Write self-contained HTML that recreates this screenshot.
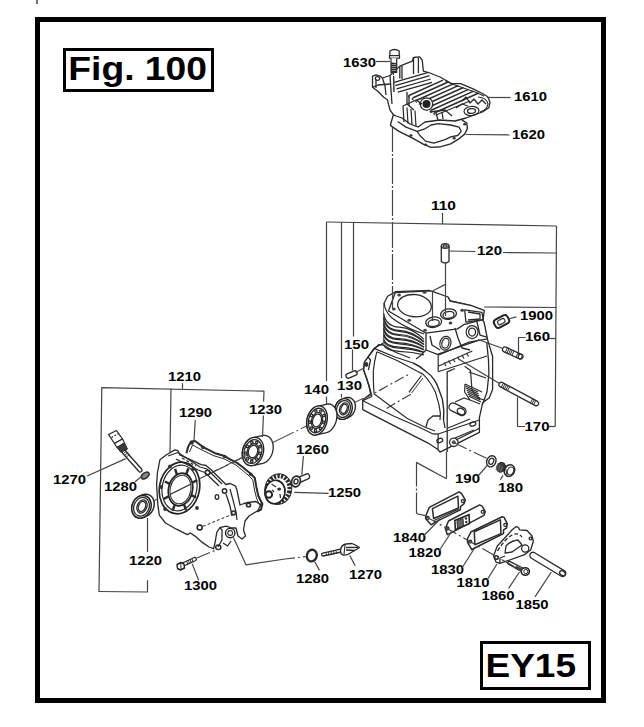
<!DOCTYPE html>
<html><head><meta charset="utf-8"><style>
html,body{margin:0;padding:0;background:#fff;width:644px;height:727px;overflow:hidden}
svg{position:absolute;left:0;top:0}
.d,.l{stroke-linejoin:round}
.d:not([fill]),.l:not([fill]){fill:none}
.d:not([stroke]){stroke:#2a2a2a}
.d:not([stroke-width]){stroke-width:1.3}
.l:not([stroke]){stroke:#444}
.l:not([stroke-width]){stroke-width:1.2}
text{font-family:"Liberation Sans",sans-serif;font-weight:bold;font-size:13px;fill:#000}
text.big{font-size:33px}
</style></head><body>
<svg width="644" height="727" viewBox="0 0 644 727">
<line x1="150" y1="502.8" x2="363.3" y2="398.2" stroke="#555" stroke-width="1.1" stroke-dasharray="34 3 2 3"/>
<polygon class="d" points="393.4,114.6 390.6,124.3 390.6,125.7 399.0,131.3 413.0,138.3 424.1,144.6 431.1,147.4 440.9,146.7 450.7,143.9 457.7,139.7 464.7,134.1 467.4,128.5 466.8,123.0 463.3,120.9 460.0,118.0" fill="#fff" stroke-width="1.4"/>
<polyline class="d" points="397.6,121.5 406.0,127.1 417.1,131.3 424.1,129.2 431.1,125.0 438.1,123.6 450.7,125.0 459.1,127.1 461.2,131.3 457.7,135.5 450.7,136.9 445.1,139.7 433.9,143.2 425.5,141.1 419.9,135.5 417.1,131.3" stroke-width="1.3"/>
<ellipse cx="410.9" cy="135.5" rx="1.6" ry="1.2" fill="#333"/>
<ellipse cx="425.5" cy="144.6" rx="1.6" ry="1.2" fill="#333"/>
<ellipse cx="454.2" cy="138.3" rx="1.6" ry="1.2" fill="#333"/>
<ellipse cx="464.7" cy="124.3" rx="1.6" ry="1.2" fill="#333"/>
<polygon class="d" points="372.5,76.1 376.2,74.8 380.0,76.1 382.4,78.0 390.0,75.5 399.8,66.1 412.2,61.2 413.5,57.5 419.7,56.8 422.2,60.0 423.4,71.1 430.0,73.0 440.0,77.0 452.0,83.7 460.7,83.7 473.7,89.1 482.4,93.5 487.8,96.7 490.0,102.2 488.9,107.6 482.4,112.0 473.7,115.2 466.0,118.0 455.0,121.0 440.0,120.0 425.0,122.0 418.0,127.0 410.0,124.0 402.0,118.0 396.0,116.0 393.4,114.6 390.0,110.0 388.6,104.7 387.4,99.7 383.7,97.2 377.5,91.0 372.5,87.3" fill="#fff" stroke-width="1.3"/>
<path class="d" d="M389.9,55.6 L389.9,51 Q394.5,48 399.2,51 L399.2,55.6 Z" fill="#fff" stroke-width="1.3"/>
<rect x="389.5" y="55.6" width="10" height="2.6" fill="#fff" stroke="#2a2a2a" stroke-width="1.2"/>
<path class="d" d="M391,58.2 L391,72.4 L396.7,72.4 L396.7,58.2" fill="#fff" stroke-width="1.2"/>
<line class="d" x1="391" y1="63" x2="396.7" y2="64" stroke-width="1.3"/>
<line class="d" x1="391" y1="65" x2="396.7" y2="66" stroke-width="1.3"/>
<line class="d" x1="391" y1="67" x2="396.7" y2="68" stroke-width="1.3"/>
<line class="d" x1="391" y1="69" x2="396.7" y2="70" stroke-width="1.3"/>
<line class="d" x1="391" y1="71" x2="396.7" y2="72" stroke-width="1.3"/>
<ellipse class="d" cx="377.5" cy="78.5" rx="2.2" ry="1.8" transform="rotate(0 377.5 78.5)" stroke-width="1.2"/>
<polyline class="d" points="372.5,87.3 378.0,85.0 390.0,84.0" />
<polyline class="d" points="376.0,79.0 376.0,88.0" />
<polyline class="d" points="382.4,78.0 385.0,86.0 386.0,95.0" />
<polyline class="d" points="390.0,75.5 391.0,90.0 392.0,104.0" />
<polyline class="d" points="393.6,76.0 394.0,92.0" />
<polyline class="d" points="399.8,66.1 399.8,78.6" />
<polyline class="d" points="413.5,57.5 413.5,74.0" />
<polyline class="d" points="418.4,58.0 418.4,73.0" />
<polyline class="d" points="402.0,66.0 402.0,79.0" />
<polyline class="d" points="394.0,82.3 428.4,72.4" stroke-width="1.2"/>
<polyline class="d" points="395.3,85.6 429.6,75.7" stroke-width="1.2"/>
<polyline class="d" points="396.6,88.9 430.8,79.0" stroke-width="1.2"/>
<polyline class="d" points="397.9,92.2 432.0,82.3" stroke-width="1.2"/>
<polyline class="d" points="409.0,95.5 443.0,80.2" stroke-width="1.4"/>
<path class="d" d="M409.0,95.5 q-1.8,1.4 1.0,2.0" stroke-width="1"/>
<polyline class="d" points="412.6,98.0 448.1,82.0" stroke-width="1.4"/>
<path class="d" d="M412.6,98.0 q-1.8,1.4 1.0,2.0" stroke-width="1"/>
<polyline class="d" points="416.2,100.5 453.2,83.8" stroke-width="1.4"/>
<path class="d" d="M416.2,100.5 q-1.8,1.4 1.0,2.0" stroke-width="1"/>
<polyline class="d" points="419.8,103.0 458.3,85.7" stroke-width="1.4"/>
<path class="d" d="M419.8,103.0 q-1.8,1.4 1.0,2.0" stroke-width="1"/>
<polyline class="d" points="423.4,105.5 463.4,87.5" stroke-width="1.4"/>
<path class="d" d="M423.4,105.5 q-1.8,1.4 1.0,2.0" stroke-width="1"/>
<polyline class="d" points="427.0,108.0 468.5,89.3" stroke-width="1.4"/>
<path class="d" d="M427.0,108.0 q-1.8,1.4 1.0,2.0" stroke-width="1"/>
<polyline class="d" points="430.6,110.5 473.6,91.2" stroke-width="1.4"/>
<path class="d" d="M430.6,110.5 q-1.8,1.4 1.0,2.0" stroke-width="1"/>
<polyline class="d" points="434.2,113.0 478.7,93.0" stroke-width="1.4"/>
<path class="d" d="M434.2,113.0 q-1.8,1.4 1.0,2.0" stroke-width="1"/>
<polyline class="d" points="407.0,92.0 407.0,104.0 414.0,110.0" />
<polyline class="d" points="409.0,95.0 409.0,106.0" />
<polyline class="d" points="445.0,80.5 452.0,84.0 475.0,92.0 484.0,96.0" stroke-width="1.2"/>
<polyline class="d" points="436.0,115.0 470.0,101.0" stroke-width="1.2"/>
<circle cx="426.5" cy="104" r="6.2" fill="#fff" stroke="#2a2a2a" stroke-width="1.3"/>
<circle cx="426.5" cy="104" r="4" fill="#222"/>
<polyline class="d" points="403.0,106.0 404.0,122.0" stroke-width="1.2"/>
<polyline class="d" points="407.0,107.5 408.0,123.5" stroke-width="1.2"/>
<polyline class="d" points="411.0,109.0 412.0,125.0" stroke-width="1.2"/>
<polyline class="d" points="415.0,110.5 416.0,126.5" stroke-width="1.2"/>
<polyline class="d" points="403.0,106.0 416.0,100.0 422.0,104.0" />
<polyline class="d" points="430.0,112.0 445.0,110.0 452.0,116.0" />
<polyline class="d" points="436.0,113.0 438.0,120.0" />
<polyline class="d" points="442.0,112.0 443.0,119.0" />
<path class="d" d="M478,97 Q487,98 488,104 Q487,110 480,112" stroke-width="1.2"/>
<polyline class="d" points="462.0,101.0 466.0,97.0 470.0,103.0 474.0,99.0 478.0,104.0 482.0,100.0 486.0,104.0" />
<ellipse class="d" cx="471.5" cy="111" rx="7.5" ry="4.5" transform="rotate(-5 471.5 111)" stroke-width="1.2"/>
<ellipse class="d" cx="471.5" cy="111" rx="4" ry="2.4" transform="rotate(-5 471.5 111)" />
<polyline class="d" points="456.0,108.0 462.0,104.0 468.0,106.0" />
<path class="d" d="M441.3,246 L441.3,261.5 Q445.2,264.5 449,261.5 L449,246" fill="#fff"/>
<ellipse class="d" cx="445.15" cy="246" rx="3.85" ry="2.4" transform="rotate(0 445.15 246)" />
<ellipse class="d" cx="445.15" cy="246" rx="2" ry="1.2" transform="rotate(0 445.15 246)" />
<path class="d" fill="#fff" d="M504.0,351.8 L519.5,358.9 A2.5,2.5 0 0 0 521.5,354.3 L506.0,347.2 A2.5,2.5 0 0 0 504.0,351.8Z"/>
<line class="d" x1="505.3" y1="352.4" x2="507.4" y2="347.9" stroke-width="1"/>
<line class="d" x1="507.0" y1="353.1" x2="509.0" y2="348.6" stroke-width="1"/>
<line class="d" x1="508.6" y1="353.9" x2="510.7" y2="349.4" stroke-width="1"/>
<line class="d" x1="510.2" y1="354.6" x2="512.3" y2="350.1" stroke-width="1"/>
<line class="d" x1="511.9" y1="355.4" x2="514.0" y2="350.9" stroke-width="1"/>
<line class="d" x1="517.6" y1="358.0" x2="519.7" y2="353.5" stroke-width="1"/>
<line class="d" x1="516.0" y1="357.3" x2="518.1" y2="352.7" stroke-width="1"/>
<ellipse class="d" cx="520.2" cy="356.5" rx="1.8" ry="2.4" transform="rotate(25 520.2 356.5)" stroke-width="1"/>
<path class="d" fill="#fff" d="M499.9,386.6 L535.4,405.6 A2.4,2.4 0 0 0 537.6,401.4 L502.1,382.4 A2.4,2.4 0 0 0 499.9,386.6Z"/>
<line class="d" x1="501.2" y1="387.3" x2="503.5" y2="383.1" stroke-width="1"/>
<line class="d" x1="502.8" y1="388.2" x2="505.0" y2="383.9" stroke-width="1"/>
<line class="d" x1="504.4" y1="389.0" x2="506.6" y2="384.8" stroke-width="1"/>
<line class="d" x1="506.0" y1="389.9" x2="508.2" y2="385.6" stroke-width="1"/>
<line class="d" x1="507.5" y1="390.7" x2="509.8" y2="386.5" stroke-width="1"/>
<line class="d" x1="533.6" y1="404.7" x2="535.9" y2="400.4" stroke-width="1"/>
<line class="d" x1="532.0" y1="403.8" x2="534.3" y2="399.6" stroke-width="1"/>
<line class="d" x1="530.4" y1="403.0" x2="532.7" y2="398.7" stroke-width="1"/>
<rect x="494" y="317" width="15" height="9" rx="3" transform="rotate(-28 501.5 321.5)" fill="#fff" stroke="#222" stroke-width="2"/>
<rect x="497.5" y="319.3" width="7.5" height="4.4" rx="1.5" transform="rotate(-28 501.5 321.5)" fill="none" stroke="#333" stroke-width="1.2"/>
<path class="d" fill="#fff" d="M348.9,378.1 L355.9,375.1 A2.3,2.3 0 0 0 354.1,370.9 L347.1,373.9 A2.3,2.3 0 0 0 348.9,378.1Z"/>
<polygon class="d" points="334.6,410.1 334.8,408.7 335.0,407.4 335.4,406.1 336.0,404.8 336.6,403.6 337.4,402.5 338.3,401.5 339.3,400.6 340.4,399.9 341.5,399.3 344.5,398.1 345.6,397.7 346.8,397.5 347.9,397.4 349.0,397.5 350.1,397.8 351.1,398.3 352.1,398.9 352.9,399.7 353.7,400.6 354.3,401.7 354.8,402.8 355.1,404.1 355.3,405.4 355.4,406.7 355.2,408.1 355.0,409.4 354.6,410.7 354.0,412.0 353.4,413.2 352.6,414.3 351.7,415.3 350.7,416.2 349.6,416.9 348.5,417.5 345.5,418.7 344.4,419.1 343.2,419.3 342.1,419.4 341.0,419.3 339.9,419.0 338.9,418.5 337.9,417.9 337.1,417.1 336.3,416.2 335.7,415.1 335.2,414.0 334.9,412.7 334.7,411.4" fill="#fff" stroke-width="1.4"/>
<ellipse cx="343.5" cy="409" rx="8.6" ry="10.6" transform="rotate(20 343.5 409)" fill="#fff" stroke="#222" stroke-width="1.4"/>
<ellipse class="d" cx="343.5" cy="409" rx="6.8" ry="8.6" transform="rotate(20 343.5 409)" />
<ellipse class="d" cx="344" cy="408.8" rx="4.3" ry="6.2" transform="rotate(20 344 408.8)" stroke-width="1.2"/>
<ellipse class="d" cx="344" cy="408.8" rx="3" ry="4.7" transform="rotate(20 344 408.8)" />
<polygon class="d" points="306.6,423.6 306.7,421.7 306.9,419.8 307.3,417.9 307.9,416.1 308.7,414.3 309.5,412.6 310.6,411.1 311.7,409.7 312.9,408.6 314.2,407.6 315.5,406.8 316.8,406.3 326.3,404.3 327.7,404.0 329.0,404.0 330.3,404.2 331.6,404.7 332.7,405.4 333.7,406.3 334.6,407.4 335.4,408.7 336.0,410.2 336.5,411.9 336.8,413.6 336.9,415.4 336.8,417.3 336.6,419.2 336.2,421.1 335.6,422.9 334.8,424.7 334.0,426.4 332.9,427.9 331.8,429.3 330.6,430.4 329.3,431.4 328.0,432.2 326.7,432.7 317.2,434.7 315.8,435.0 314.5,435.0 313.2,434.8 311.9,434.3 310.8,433.6 309.8,432.7 308.9,431.6 308.1,430.3 307.5,428.8 307.0,427.1 306.7,425.4" fill="#fff" stroke-width="1.3"/>
<ellipse cx="317" cy="420.5" rx="10" ry="14.8" transform="rotate(15 317 420.5)" fill="#fff" stroke="#222" stroke-width="1.3"/>
<ellipse class="d" cx="317" cy="420.5" rx="8.4" ry="12.432" transform="rotate(15 317 420.5)" />
<ellipse class="d" cx="317" cy="420.5" rx="5.5" ry="8.14" transform="rotate(15 317 420.5)" stroke-width="1.2"/>
<ellipse class="d" cx="317" cy="420.5" rx="4.4" ry="6.5120000000000005" transform="rotate(15 317 420.5)" />
<circle class="d" cx="323.7" cy="422.3" r="1.2"/>
<circle class="d" cx="320.4" cy="428.3" r="1.2"/>
<circle class="d" cx="315.5" cy="430.6" r="1.2"/>
<circle class="d" cx="311.3" cy="428.2" r="1.2"/>
<circle class="d" cx="309.8" cy="422.2" r="1.2"/>
<circle class="d" cx="311.6" cy="415.4" r="1.2"/>
<circle class="d" cx="315.9" cy="411.0" r="1.2"/>
<circle class="d" cx="320.8" cy="411.0" r="1.2"/>
<circle class="d" cx="323.9" cy="415.5" r="1.2"/>
<polygon class="d" points="242.3,454.3 242.3,452.5 242.6,450.6 242.9,448.8 243.5,447.0 244.3,445.3 245.2,443.7 246.2,442.2 247.3,440.9 248.5,439.8 249.8,438.8 251.2,438.1 252.6,437.6 262.1,435.6 263.5,435.4 264.9,435.4 266.2,435.6 267.5,436.1 268.7,436.8 269.8,437.7 270.8,438.8 271.6,440.1 272.2,441.6 272.7,443.2 273.1,444.9 273.2,446.7 273.2,448.5 272.9,450.4 272.6,452.2 272.0,454.0 271.2,455.7 270.4,457.3 269.3,458.8 268.2,460.1 267.0,461.2 265.7,462.2 264.3,462.9 262.9,463.4 253.4,465.4 252.0,465.6 250.6,465.6 249.3,465.4 248.0,464.9 246.8,464.2 245.7,463.3 244.8,462.2 243.9,460.9 243.3,459.4 242.8,457.8 242.4,456.1" fill="#fff" stroke-width="1.3"/>
<ellipse cx="253" cy="451.5" rx="10.4" ry="14.4" transform="rotate(15 253 451.5)" fill="#fff" stroke="#222" stroke-width="1.3"/>
<ellipse class="d" cx="253" cy="451.5" rx="8.736" ry="12.096" transform="rotate(15 253 451.5)" />
<ellipse class="d" cx="253" cy="451.5" rx="5.720000000000001" ry="7.920000000000001" transform="rotate(15 253 451.5)" stroke-width="1.2"/>
<ellipse class="d" cx="253" cy="451.5" rx="4.5760000000000005" ry="6.336000000000001" transform="rotate(15 253 451.5)" />
<circle class="d" cx="260.0" cy="453.4" r="1.2"/>
<circle class="d" cx="256.7" cy="459.1" r="1.2"/>
<circle class="d" cx="251.7" cy="461.3" r="1.2"/>
<circle class="d" cx="247.3" cy="458.9" r="1.2"/>
<circle class="d" cx="245.6" cy="453.0" r="1.2"/>
<circle class="d" cx="247.3" cy="446.4" r="1.2"/>
<circle class="d" cx="251.8" cy="442.2" r="1.2"/>
<circle class="d" cx="256.8" cy="442.3" r="1.2"/>
<circle class="d" cx="260.0" cy="446.7" r="1.2"/>
<ellipse cx="278.3" cy="489.2" rx="11.2" ry="13.2" transform="rotate(10 278.3 489.2)" fill="none" stroke="#2a2a2a" stroke-width="4.2" stroke-dasharray="2.3 1.3"/>
<ellipse cx="278.3" cy="489.2" rx="13.4" ry="15.4" transform="rotate(10 278.3 489.2)" fill="none" stroke="#2a2a2a" stroke-width="1"/>
<ellipse cx="275" cy="492" rx="10" ry="11.8" transform="rotate(10 275 492)" fill="#fff" stroke="#222" stroke-width="1.6"/>
<circle cx="268.8" cy="494.5" r="3.3" fill="#fff" stroke="#222" stroke-width="1.9"/>
<ellipse cx="279.1" cy="489.1" rx="2" ry="1.6" fill="#333"/>
<polyline class="d" points="271.5,484.0 276.0,487.0" stroke-width="1.2"/>
<polyline class="d" points="272.0,490.0 274.0,492.0" stroke-width="1.2"/>
<polyline class="d" points="280.0,494.0 280.5,498.0" stroke-width="1.2"/>
<path class="d" fill="#fff" d="M298.1,483.4 L308.1,478.9 A2.6,2.6 0 0 0 305.9,474.1 L295.9,478.6 A2.6,2.6 0 0 0 298.1,483.4Z"/>
<ellipse class="d" cx="296" cy="481.5" rx="4.3" ry="5.4" transform="rotate(20 296 481.5)" fill="#fff" stroke-width="1.8"/>
<ellipse class="d" cx="296" cy="481.5" rx="2" ry="2.6" transform="rotate(20 296 481.5)" stroke-width="1.4"/>
<polyline class="d" points="186.5,453.2 188.0,447.1 191.0,441.5 195.0,441.0 203.2,447.1 215.0,453.2 224.6,456.0 228.7,458.7 237.0,462.9 242.5,467.0 250.7,473.8 254.8,478.0 256.2,486.2 258.3,495.8 260.3,500.0 262.4,504.0 261.0,509.6 257.0,511.5" stroke-width="2"/>
<polyline class="d" points="189.5,452.0 192.5,445.0 202.0,450.0 214.0,455.8 224.0,458.8 236.0,465.0 249.0,475.8 252.8,480.0 254.5,490.0 256.5,498.0 259.5,505.0" stroke-width="1"/>
<circle cx="203" cy="447.5" r="1.8" fill="#333"/>
<circle cx="224.6" cy="456.5" r="1.8" fill="#333"/>
<circle cx="250.7" cy="474.3" r="1.8" fill="#333"/>
<circle cx="260.5" cy="505" r="1.8" fill="#333"/>
<circle cx="192" cy="443" r="1.8" fill="#333"/>
<polygon class="d" points="159.9,459.8 166.5,454.8 174.8,449.9 178.0,450.7 179.7,454.8 201.2,464.7 206.1,465.5 211.1,469.7 225.9,484.5 230.1,483.5 235.6,486.2 237.0,490.3 240.0,505.0 244.0,503.5 248.0,502.5 256.0,501.5 260.5,505.0 258.0,510.5 249.0,516.0 245.0,521.0 243.5,530.0 245.5,536.0 242.0,539.0 238.0,536.0 236.0,528.0 232.0,528.0 226.1,526.1 219.9,527.6 216.8,532.3 215.2,541.6 213.7,548.6 209.0,547.0 201.2,541.6 195.0,536.1 190.4,533.0 187.3,534.6 176.4,529.2 165.5,523.0 159.3,515.2 157.8,504.3 156.6,484.5 157.4,473.0" fill="#fff" stroke-width="1.3"/>
<line x1="200" y1="478.4" x2="228" y2="464.7" stroke="#444" stroke-width="1.1"/>
<line x1="233" y1="462.2" x2="248" y2="454.8" stroke="#444" stroke-width="1.1"/>
<ellipse cx="179.5" cy="488" rx="20" ry="26" transform="rotate(12 179.5 488)" fill="#fff" stroke="#222" stroke-width="1.7"/>
<ellipse class="d" cx="179.5" cy="488" rx="17.3" ry="23" transform="rotate(12 179.5 488)" stroke-width="1.2"/>
<line class="d" x1="191.3" y1="495.2" x2="196.1" y2="497.5" stroke-width="2.4"/>
<line class="d" x1="184.1" y1="504.3" x2="185.9" y2="510.2" stroke-width="2.4"/>
<line class="d" x1="174.8" y1="504.8" x2="172.5" y2="510.8" stroke-width="2.4"/>
<line class="d" x1="168.8" y1="496.3" x2="163.8" y2="498.9" stroke-width="2.4"/>
<line class="d" x1="169.7" y1="483.8" x2="164.9" y2="481.5" stroke-width="2.4"/>
<line class="d" x1="176.9" y1="474.7" x2="175.1" y2="468.8" stroke-width="2.4"/>
<line class="d" x1="186.2" y1="474.2" x2="188.5" y2="468.2" stroke-width="2.4"/>
<line class="d" x1="192.2" y1="482.7" x2="197.2" y2="480.1" stroke-width="2.4"/>
<ellipse cx="180.5" cy="489.5" rx="12" ry="16.5" transform="rotate(12 180.5 489.5)" fill="#fff" stroke="#222" stroke-width="1.7"/>
<ellipse class="d" cx="180.5" cy="489.5" rx="10.3" ry="14.5" transform="rotate(12 180.5 489.5)" stroke-width="1"/>
<circle cx="170" cy="466.5" r="1.9" fill="#333"/>
<circle cx="197" cy="508" r="1.9" fill="#333"/>
<circle cx="165" cy="509" r="1.9" fill="#333"/>
<circle cx="193" cy="469" r="1.9" fill="#333"/>
<circle cx="161" cy="487" r="1.9" fill="#333"/>
<line class="d" x1="170" y1="494.5" x2="191" y2="484" />
<polyline class="d" points="168.0,456.0 178.0,452.5 200.0,467.0 207.0,469.0 222.0,484.0" stroke-width="1.2"/>
<polyline class="d" points="176.0,459.0 198.0,470.0 205.0,472.5 219.0,486.0" />
<polyline class="d" points="182.0,458.0 196.0,466.0" stroke-dasharray="3 2"/>
<ellipse class="d" cx="207.5" cy="472.5" rx="2.3" ry="2.3" transform="rotate(0 207.5 472.5)" stroke-width="1.4"/>
<ellipse class="d" cx="224.5" cy="491" rx="2.2" ry="2.2" transform="rotate(0 224.5 491)" stroke-width="1.4"/>
<ellipse class="d" cx="217" cy="497" rx="1.8" ry="2.3" transform="rotate(0 217 497)" />
<polyline class="d" points="230.0,489.0 233.0,500.0 236.0,512.0 237.0,520.0" stroke-width="1.2"/>
<polyline class="d" points="226.0,494.0 230.0,506.0 232.0,516.0" />
<ellipse class="d" cx="233.5" cy="513" rx="2" ry="2" transform="rotate(0 233.5 513)" stroke-width="1.6"/>
<ellipse class="d" cx="248.5" cy="505" rx="2" ry="1.8" transform="rotate(0 248.5 505)" stroke-width="1.6"/>
<polyline class="d" points="219.9,527.6 222.0,530.0 222.0,540.0 218.0,547.0" />
<circle cx="230.2" cy="533" r="4.7" fill="#fff" stroke="#222" stroke-width="1.4"/>
<circle cx="230.2" cy="533" r="2.4" fill="none" stroke="#333" stroke-width="1.1"/>
<ellipse class="d" cx="218.3" cy="547.3" rx="2.6" ry="2.3" transform="rotate(0 218.3 547.3)" stroke-width="1.4"/>
<polyline class="d" points="223.0,543.0 227.6,546.0 231.0,541.0" />
<circle cx="199.7" cy="527.6" r="2.5" fill="none" stroke="#222" stroke-width="1.5"/>
<line x1="203" y1="526.3" x2="234" y2="513.6" stroke="#444" stroke-width="1.1" stroke-dasharray="3 2"/>
<polygon class="d" points="131.8,507.7 132.0,506.2 132.3,504.7 132.8,503.3 133.4,501.9 134.2,500.6 135.1,499.4 136.1,498.4 137.2,497.5 138.4,496.7 139.6,496.1 142.6,494.8 143.9,494.4 145.2,494.2 146.4,494.2 147.7,494.4 148.8,494.7 149.9,495.3 150.9,496.0 151.8,496.9 152.6,497.9 153.2,499.1 153.7,500.4 154.1,501.8 154.2,503.2 154.2,504.6 154.0,506.1 153.7,507.6 153.2,509.0 152.6,510.4 151.8,511.7 150.9,512.9 149.9,513.9 148.8,514.8 147.6,515.6 146.4,516.2 143.4,517.5 142.1,517.9 140.8,518.1 139.6,518.1 138.3,517.9 137.2,517.6 136.1,517.0 135.1,516.3 134.2,515.4 133.4,514.4 132.8,513.2 132.3,511.9 131.9,510.6 131.8,509.1" fill="#fff" stroke-width="1.5"/>
<ellipse cx="141.5" cy="506.8" rx="9.4" ry="11.6" transform="rotate(22 141.5 506.8)" fill="#fff" stroke="#222" stroke-width="1.5"/>
<ellipse class="d" cx="141.5" cy="506.8" rx="7.6" ry="9.6" transform="rotate(22 141.5 506.8)" />
<ellipse class="d" cx="142" cy="506.5" rx="4.8" ry="6.8" transform="rotate(22 142 506.5)" stroke-width="1.3"/>
<ellipse class="d" cx="142" cy="506.5" rx="3.4" ry="5.2" transform="rotate(22 142 506.5)" />
<polygon class="d" points="108.5,434.5 116.5,430.5 122.5,439.0 114.5,443.5" fill="#fff" stroke-width="1.3"/>
<line class="d" x1="111.5" y1="437.5" x2="113" y2="436.6" stroke-width="1.3"/>
<line class="d" x1="114.5" y1="435.8" x2="116" y2="435" stroke-width="1.3"/>
<line class="d" x1="117.5" y1="434.2" x2="119" y2="433.4" stroke-width="1.3"/>
<polygon class="d" points="114.5,443.5 122.5,439.0 124.5,443.0 117.0,447.5" fill="#fff" stroke-width="1.2"/>
<polygon class="d" points="117.0,447.5 124.5,443.0 127.5,449.0 121.0,452.5" fill="#3a3a3a" stroke-width="1"/>
<path class="d" fill="#fff" d="M122.7,453.2 L139.2,471.7 A1.8,1.8 0 0 0 141.8,469.3 L125.3,450.8 A1.8,1.8 0 0 0 122.7,453.2Z"/>
<line class="d" x1="123.5" y1="453.5" x2="126.8" y2="450.7" stroke-width="1"/>
<line class="d" x1="125.0" y1="455.2" x2="128.3" y2="452.4" stroke-width="1"/>
<line class="d" x1="126.5" y1="456.9" x2="129.8" y2="454.1" stroke-width="1"/>
<ellipse class="d" cx="145.2" cy="475.5" rx="4.4" ry="2.6" transform="rotate(-38 145.2 475.5)" fill="#888" stroke-width="1.5"/>
<path class="d" fill="#fff" d="M182.7,566.5 L195.7,560.5 A1.7,1.7 0 0 0 194.3,557.5 L181.3,563.5 A1.7,1.7 0 0 0 182.7,566.5Z"/>
<line class="d" x1="186.5" y1="561.3" x2="188.0" y2="564.8" stroke-width="1"/>
<line class="d" x1="188.3" y1="560.5" x2="189.8" y2="564.0" stroke-width="1"/>
<line class="d" x1="190.1" y1="559.7" x2="191.6" y2="563.2" stroke-width="1"/>
<line class="d" x1="191.9" y1="558.9" x2="193.4" y2="562.4" stroke-width="1"/>
<path d="M177,564.5 L181,562.5 L184,564 L184.5,568 L180.5,570 L177.5,568.5 Z" fill="#fff" stroke="#222" stroke-width="1.4" stroke-linejoin="round"/>
<line class="d" x1="180.8" y1="562.8" x2="181" y2="569.6" stroke-width="1"/>
<ellipse class="d" cx="311.8" cy="555.6" rx="4.9" ry="5.9" transform="rotate(15 311.8 555.6)" stroke-width="2.3"/>
<path class="d" fill="#fff" d="M323.3,556.0 L341.3,552.0 A1.4,1.4 0 0 0 340.7,549.2 L322.7,553.2 A1.4,1.4 0 0 0 323.3,556.0Z"/>
<line class="d" x1="326.0" y1="552.5" x2="326.6" y2="555.8" stroke-width="0.9"/>
<line class="d" x1="328.5" y1="551.95" x2="329.1" y2="555.25" stroke-width="0.9"/>
<line class="d" x1="331.0" y1="551.4" x2="331.6" y2="554.6999999999999" stroke-width="0.9"/>
<line class="d" x1="333.5" y1="550.85" x2="334.1" y2="554.15" stroke-width="0.9"/>
<line class="d" x1="336.0" y1="550.3" x2="336.6" y2="553.5999999999999" stroke-width="0.9"/>
<path class="d" d="M340.5,550.5 Q341,545 346,544 L352,543.5 Q356,545 359.5,547.5 Q356,550 352,552 Q347,556 343,555 Q340,553.5 340.5,550.5 Z" fill="#fff" stroke-width="1.3"/>
<polyline class="d" points="345.0,545.0 344.0,554.5" stroke-width="1.1"/>
<polyline class="d" points="346.0,547.5 358.0,547.3" />
<polyline class="d" points="346.0,550.0 355.0,550.5" />
<ellipse class="d" cx="491.3" cy="461.3" rx="4.5" ry="5.8" transform="rotate(25 491.3 461.3)" stroke-width="1.4"/>
<ellipse class="d" cx="491.3" cy="461.3" rx="2.3" ry="3.2" transform="rotate(25 491.3 461.3)" />
<ellipse cx="501" cy="467.3" rx="4.3" ry="5" transform="rotate(30 501 467.3)" fill="#3a3a3a" stroke="#222" stroke-width="1"/>
<line class="d" x1="498.0" y1="463.5" x2="496.0" y2="470.0" stroke="#888" stroke-width="0.8"/>
<line class="d" x1="500.2" y1="464.8" x2="498.2" y2="471.3" stroke="#888" stroke-width="0.8"/>
<line class="d" x1="502.4" y1="466.1" x2="500.4" y2="472.6" stroke="#888" stroke-width="0.8"/>
<ellipse cx="509.5" cy="470.6" rx="5" ry="6" transform="rotate(25 509.5 470.6)" fill="#fff" stroke="#222" stroke-width="1.5"/>
<ellipse cx="510.5" cy="471" rx="3" ry="4" transform="rotate(25 510.5 471)" fill="none" stroke="#333" stroke-width="1.1"/>
<polyline class="d" points="505.0,465.0 507.0,475.0" stroke-width="1"/>
<polygon class="d" points="429.3,507.4 459.1,491.8 461.6,493.7 465.3,499.9 464.1,503.6 460.6,506.5 460.3,509.8 436.1,521.6 431.1,524.8 425.6,518.5 426.2,514.8" fill="#fff" stroke-width="1.5"/>
<polygon class="d" points="432.4,508.6 457.9,496.2 458.5,508.0 433.6,518.5" stroke-width="1.5"/>
<circle class="d" cx="427.6" cy="517.9" r="1.5" stroke-width="1.3"/>
<circle class="d" cx="462.8" cy="501.1" r="1.5" stroke-width="1.3"/>
<polyline class="d" points="434.0,520.5 459.0,509.0" />
<polygon class="d" points="448.5,521.0 479.6,504.9 482.1,506.1 485.2,511.7 483.9,515.4 480.2,517.3 451.0,532.8 447.3,534.7 445.4,528.5" fill="#fff" stroke-width="1.5"/>
<polygon class="d" points="" stroke-width="1.5"/>
<circle class="d" cx="447.5" cy="528.5" r="1.5" stroke-width="1.3"/>
<circle class="d" cx="482.7" cy="511.8" r="1.5" stroke-width="1.3"/>
<polygon points="454.8,520.4 469,514.7 469.5,523.5 455.4,529.7" fill="#fff" stroke="#222" stroke-width="1.6"/>
<polygon points="457,521 463,518.5 463.5,526 457.5,528" fill="#666" stroke="#333" stroke-width="1"/>
<circle cx="466" cy="518.5" r="1.2" fill="#333"/><circle cx="466.3" cy="522" r="1.2" fill="#333"/>
<polygon class="d" points="471.2,531.7 502.2,516.8 504.1,517.4 507.2,523.6 506.6,528.0 503.5,529.8 503.5,533.6 473.7,548.5 471.8,549.7 467.5,542.3 467.5,538.5" fill="#fff" stroke-width="1.5"/>
<polygon class="d" points="474.3,531.7 500.4,519.9 501.0,533.6 474.9,544.8" stroke-width="1.5"/>
<circle class="d" cx="470.2" cy="541.6" r="1.5" stroke-width="1.3"/>
<circle class="d" cx="505.3" cy="524.9" r="1.5" stroke-width="1.3"/>
<polygon class="d" points="493.5,555.9 497.3,546.0 512.2,529.8 515.9,526.7 518.4,527.4 519.6,529.8 527.1,530.5 532.0,536.0 533.3,541.0 530.8,549.7 524.6,554.7 507.2,560.9 499.8,563.4 496.0,562.1" fill="#fff" stroke-width="1.3"/>
<path class="d" d="M497.5,551 Q504,540 512,535 Q518,532 522,537" stroke-dasharray="4 2"/>
<path class="d" d="M505,553 L506,546 Q510,541 518,540 L522,545 L512,552 Z" />
<circle cx="525.2" cy="548.5" r="3.6" fill="#fff" stroke="#222" stroke-width="1.2"/>
<ellipse class="d" cx="496.5" cy="557.5" rx="1.8" ry="1.8" transform="rotate(0 496.5 557.5)" stroke-width="1.5"/>
<ellipse class="d" cx="530.5" cy="538.5" rx="1.4" ry="1.4" transform="rotate(0 530.5 538.5)" stroke-width="1.3"/>
<polyline class="d" points="499.8,563.4 500.0,558.0 505.0,556.0" />
<path class="d" fill="#fff" d="M531.4,558.2 L560.9,576.0 A3.1,3.1 0 0 0 564.1,570.6 L534.6,552.8 A3.1,3.1 0 0 0 531.4,558.2Z"/>
<ellipse class="d" cx="562.5" cy="573.3" rx="2.2" ry="3.1" transform="rotate(-58 562.5 573.3)" />
<path class="d" fill="#fff" d="M508.3,564.2 L521.3,570.8 A1.6,1.6 0 0 0 522.7,568.0 L509.7,561.4 A1.6,1.6 0 0 0 508.3,564.2Z"/>
<path d="M516,565.5 L522,568.6 L520.5,571.6 L514.5,568.5 Z" fill="#444"/>
<ellipse cx="525.3" cy="571.5" rx="4.1" ry="3.8" fill="#fff" stroke="#222" stroke-width="1.6"/>
<ellipse class="d" cx="525.8" cy="571.6" rx="2" ry="2.2" transform="rotate(0 525.8 571.6)" stroke-width="1"/>
<polygon class="d" points="378.6,344.7 373.8,349.5 368.0,357.0 364.5,362.0 363.5,369.6 366.5,378.0 369.0,386.0 370.6,393.8 362.7,400.1 362.7,409.6 405.4,431.7 427.6,442.8 438.0,449.5 440.0,452.2 479.4,432.4 479.4,417.6 482.7,402.7 489.3,397.8 492.6,389.5 492.6,356.5 487.7,340.0 484.0,322.0 471.5,305.6 450.5,301.0 448.2,297.5 431.9,294.0 429.5,290.5 395.8,291.6 387.6,296.3 384.1,303.3 383.5,345.0 378.6,344.7" fill="#fff"/>
<polyline class="d" points="374.0,348.3 383.0,343.4" stroke-width="1.2"/>
<polyline class="d" points="374.0,348.3 368.0,357.0 364.5,362.0 363.5,369.6 366.5,378.0 369.0,386.0 370.5,391.0 371.9,396.5" stroke-width="1.3"/>
<ellipse cx="366.5" cy="364.5" rx="1.8" ry="2.4" fill="#333"/>
<polyline class="d" points="368.0,357.0 370.5,360.0 368.4,370.0" />
<polyline class="d" points="376.8,351.8 374.5,362.0 373.3,371.3 373.5,384.0 374.0,393.7" stroke-width="1.2"/>
<polyline class="d" points="374.0,348.3 395.0,357.0 413.1,363.0" stroke-width="1.3"/>
<polyline class="d" points="376.8,351.8 397.0,360.5 417.3,371.3" stroke-width="1.2"/>
<path class="d" d="M413.1,363 Q420,366 425.7,371.3 Q431,375 434.1,379.7 Q437,384 438.3,388.1 L442.4,399.3 L443.8,410.5 L443.5,420" stroke-width="1.4"/>
<path class="d" d="M417.3,371.3 L422.9,374.1 Q427,378 429.9,382.5 Q433,387 435.5,392.3 L439,404.9 L440.4,413.3 L440,420" stroke-width="1.2"/>
<polyline class="d" points="408.9,392.3 421.5,375.5" stroke-width="1.2"/>
<polyline class="d" points="411.5,393.0 423.0,378.0" stroke-width="0.9"/>
<line class="l" x1="386.6" y1="408.4" x2="411.7" y2="393.7" stroke-dasharray="10 3 2 3"/>
<line class="l" x1="363.3" y1="399.3" x2="410.3" y2="373.4" stroke-dasharray="10 3 2 3"/>
<polyline class="d" points="362.8,400.7 371.9,396.5" stroke-width="1.2"/>
<polyline class="d" points="362.8,400.7 393.5,416.0 418.7,427.0 433.0,434.0" stroke-width="1.2"/>
<polyline class="d" points="374.0,393.7 385.0,402.0 407.3,418.5 425.6,427.6 435.0,431.0" stroke-width="1.1"/>
<polyline class="d" points="438.0,449.5 438.2,434.0 479.4,420.0" stroke-width="1.2"/>
<polyline class="d" points="433.0,434.0 438.2,434.0" />
<ellipse class="d" cx="439.8" cy="440.5" rx="3" ry="2" transform="rotate(-20 439.8 440.5)" stroke-width="1.3"/>
<ellipse class="d" cx="472.8" cy="424" rx="3" ry="2" transform="rotate(-20 472.8 424)" stroke-width="1.3"/>
<polyline class="d" points="426.0,427.0 428.0,420.0 433.0,416.0 440.0,416.0" />
<polyline class="d" points="443.5,420.0 445.0,428.0" />
<line class="d" x1="447.2" y1="371.3" x2="447.2" y2="452" />
<polyline class="d" points="438.2,355.3 469.0,342.1 487.7,338.8" stroke-width="1.2"/>
<polyline class="d" points="438.2,355.3 438.2,371.8" stroke-width="1.2"/>
<polyline class="d" points="438.2,366.3 472.3,351.0" stroke-width="1.2"/>
<polyline class="d" points="438.2,371.8 472.3,360.8 487.0,356.0" stroke-width="1.2"/>
<line class="d" x1="444.0" y1="362.5" x2="446.0" y2="366.0" stroke-width="1.1"/>
<line class="d" x1="448.5" y1="360.6" x2="450.5" y2="364.1" stroke-width="1.1"/>
<line class="d" x1="453.0" y1="358.7" x2="455.0" y2="362.2" stroke-width="1.1"/>
<line class="d" x1="457.5" y1="356.8" x2="459.5" y2="360.3" stroke-width="1.1"/>
<line class="d" x1="462.0" y1="354.9" x2="464.0" y2="358.4" stroke-width="1.1"/>
<line class="d" x1="466.5" y1="353.0" x2="468.5" y2="356.5" stroke-width="1.1"/>
<polyline class="d" points="486.7,342.1 488.5,360.0 488.9,374.0 487.0,392.0 482.3,404.9" />
<polyline class="d" points="464.6,366.3 470.5,370.5 472.0,390.0 478.0,398.0 485.6,400.5" stroke-width="1.2"/>
<polyline class="d" points="469.0,372.0 486.0,378.0" />
<polyline class="d" points="465.0,384.0 482.0,392.0" />
<polyline class="d" points="465.0,384.0 464.6,392.0 470.0,400.0 480.0,404.0" stroke-width="1.2"/>
<line class="d" x1="465.5" y1="386" x2="478.0" y2="392" stroke-width="1.1"/>
<line class="d" x1="466.1" y1="388" x2="478.6" y2="394" stroke-width="1.1"/>
<line class="d" x1="466.7" y1="390" x2="479.2" y2="396" stroke-width="1.1"/>
<line class="d" x1="467.3" y1="392" x2="479.8" y2="398" stroke-width="1.1"/>
<line class="d" x1="467.9" y1="394" x2="480.4" y2="400" stroke-width="1.1"/>
<line class="d" x1="468.5" y1="396" x2="481.0" y2="402" stroke-width="1.1"/>
<polyline class="d" points="455.0,402.0 464.0,398.0 470.0,400.0" />
<polyline class="d" points="447.2,371.8 455.0,368.5" />
<path class="d" fill="#fff" d="M451.2,410.6 L460.2,415.1 A4.0,4.0 0 0 0 463.8,407.9 L454.8,403.4 A4.0,4.0 0 0 0 451.2,410.6Z"/>
<ellipse class="d" cx="461" cy="411.5" rx="3" ry="4" transform="rotate(-60 461 411.5)" fill="#fff"/>
<circle cx="453.8" cy="442.3" r="4.2" fill="#fff" stroke="#333" stroke-width="1.3"/>
<circle cx="453.8" cy="442.3" r="2" fill="#555"/>
<polyline class="d" points="448.0,428.0 470.0,419.0" />
<polyline class="d" points="455.0,438.0 474.0,430.0" />
<line class="d" x1="456" y1="440" x2="480" y2="428" />
<path d="M384,304 L383.6,345 L426,352 L426,333 Z" fill="#fff"/>
<path class="d" d="M383.7,313.3 Q385.7,326.3 399.1,327.1 T424,339.4" stroke-width="1.2"/>
<path class="d" d="M383.7,316.8 Q385.7,329.8 399.1,330.3 T424,341.8" stroke-width="1.2"/>
<path class="d" d="M383.7,318.9 Q385.7,330.5 399.1,331.3 T424,342.0" stroke-width="1.2"/>
<path class="d" d="M383.7,322.4 Q385.7,334.0 399.1,334.5 T424,344.4" stroke-width="1.2"/>
<path class="d" d="M383.7,324.5 Q385.7,334.7 399.1,335.5 T424,344.6" stroke-width="1.2"/>
<path class="d" d="M383.7,328.0 Q385.7,338.2 399.1,338.7 T424,347.0" stroke-width="1.2"/>
<path class="d" d="M383.7,330.1 Q385.7,338.9 399.1,339.7 T424,347.2" stroke-width="1.2"/>
<path class="d" d="M383.7,333.6 Q385.7,342.4 399.1,342.9 T424,349.6" stroke-width="1.2"/>
<path class="d" d="M383.7,335.7 Q385.7,343.1 399.1,343.9 T424,349.8" stroke-width="1.2"/>
<path class="d" d="M383.7,339.2 Q385.7,346.6 399.1,347.1 T424,352.2" stroke-width="1.2"/>
<path class="d" d="M383.7,341.3 Q385.7,347.3 399.1,348.1 T424,352.4" stroke-width="1.2"/>
<path class="d" d="M383.7,344.8 Q385.7,350.8 399.1,351.3 T424,354.8" stroke-width="1.2"/>
<path class="d" d="M384.1,303.3 Q385,312 392,318 Q405,328 424,334" stroke-width="1.2"/>
<polygon class="d" points="395.2,292.7 430.9,290.8 448.0,297.0 450.0,301.0 471.5,305.6 484.3,310.3 483.1,319.6 464.5,324.3 457.5,328.9 426.0,333.2 388.5,311.0" fill="#fff"/>
<ellipse class="d" cx="414.5" cy="305.7" rx="16.9" ry="11.1" transform="rotate(6 414.5 305.7)" />
<ellipse cx="399.1" cy="295.1" rx="1.9" ry="1.5" fill="#444"/>
<ellipse cx="424.6" cy="292.2" rx="1.9" ry="1.5" fill="#444"/>
<ellipse cx="393.8" cy="309.1" rx="1.9" ry="1.5" fill="#444"/>
<ellipse cx="409.2" cy="320.2" rx="1.9" ry="1.5" fill="#444"/>
<ellipse cx="425.1" cy="330.3" rx="1.9" ry="1.5" fill="#444"/>
<ellipse cx="450.5" cy="323.1" rx="1.9" ry="1.5" fill="#444"/>
<ellipse cx="462.2" cy="310.3" rx="1.9" ry="1.5" fill="#444"/>
<ellipse class="d" cx="433.7" cy="322.2" rx="8" ry="5.2" transform="rotate(-8 433.7 322.2)" stroke-width="1.3" fill="#fff"/>
<ellipse class="d" cx="433.7" cy="323.0" rx="5.6" ry="3.4" transform="rotate(-8 433.7 323.0)" />
<ellipse class="d" cx="448.5" cy="314.1" rx="8" ry="5.2" transform="rotate(-8 448.5 314.1)" stroke-width="1.3" fill="#fff"/>
<ellipse class="d" cx="448.5" cy="314.90000000000003" rx="5.6" ry="3.4" transform="rotate(-8 448.5 314.90000000000003)" />
<line class="l" x1="432.5" y1="291" x2="432.5" y2="321" />
<line class="l" x1="432.5" y1="291" x2="445.5" y2="284.4" />
<polygon class="d" points="464.7,309.8 482.0,312.3 483.2,319.7 465.9,322.2" />
<polyline class="d" points="468.0,312.0 480.0,314.0 480.0,319.0 468.0,320.0" />
<ellipse class="d" cx="472.1" cy="332.1" rx="6" ry="6.5" transform="rotate(0 472.1 332.1)" stroke-width="1.2"/>
<ellipse class="d" cx="472.1" cy="332.1" rx="3.5" ry="4" transform="rotate(0 472.1 332.1)" />
<ellipse class="d" cx="445.4" cy="343.2" rx="5.5" ry="7" transform="rotate(15 445.4 343.2)" stroke-width="1.2"/>
<ellipse class="d" cx="445.4" cy="343.2" rx="3.5" ry="5" transform="rotate(15 445.4 343.2)" />
<polyline class="d" points="426.0,333.2 426.0,350.0 437.4,354.4 477.0,340.8" />
<polyline class="d" points="430.0,336.0 432.0,345.0 440.0,350.0" />
<polyline class="d" points="455.0,328.0 458.0,338.0 462.0,348.0 470.0,350.0" />
<polyline class="d" points="477.0,322.0 480.0,335.0 487.0,337.0" />
<polyline class="d" points="426.0,350.0 420.0,356.0 416.0,359.0" />
<polyline class="d" points="383.5,345.0 395.0,352.0 410.0,358.0" />
<rect x="37.5" y="19.5" width="566" height="681" fill="none" stroke="#000" stroke-width="5"/>
<rect x="36" y="0" width="2" height="4" fill="#707070"/>
<rect x="64.5" y="49.5" width="148" height="41" fill="none" stroke="#000" stroke-width="3"/>
<rect x="481.5" y="642.5" width="108" height="46" fill="none" stroke="#000" stroke-width="3"/>
<text class="big" x="68.3" y="80" textLength="138.7" lengthAdjust="spacingAndGlyphs">Fig. 100</text>
<text class="big" x="485.5" y="677" textLength="90.5" lengthAdjust="spacingAndGlyphs">EY15</text>
<text x="343.0" y="67.0" textLength="33.0" lengthAdjust="spacingAndGlyphs">1630</text>
<text x="514.0" y="101.0" textLength="33.0" lengthAdjust="spacingAndGlyphs">1610</text>
<text x="512.0" y="139.0" textLength="33.0" lengthAdjust="spacingAndGlyphs">1620</text>
<text x="431.0" y="210.0" textLength="25.0" lengthAdjust="spacingAndGlyphs">110</text>
<text x="477.0" y="255.0" textLength="25.0" lengthAdjust="spacingAndGlyphs">120</text>
<text x="520.0" y="320.0" textLength="33.0" lengthAdjust="spacingAndGlyphs">1900</text>
<text x="525.0" y="341.0" textLength="25.0" lengthAdjust="spacingAndGlyphs">160</text>
<text x="344.0" y="349.0" textLength="25.0" lengthAdjust="spacingAndGlyphs">150</text>
<text x="337.0" y="390.0" textLength="25.0" lengthAdjust="spacingAndGlyphs">130</text>
<text x="304.0" y="394.0" textLength="25.0" lengthAdjust="spacingAndGlyphs">140</text>
<text x="524.5" y="431.0" textLength="25.0" lengthAdjust="spacingAndGlyphs">170</text>
<text x="455.0" y="483.0" textLength="25.0" lengthAdjust="spacingAndGlyphs">190</text>
<text x="498.0" y="492.0" textLength="25.0" lengthAdjust="spacingAndGlyphs">180</text>
<text x="168.0" y="380.5" textLength="33.0" lengthAdjust="spacingAndGlyphs">1210</text>
<text x="179.0" y="417.0" textLength="33.0" lengthAdjust="spacingAndGlyphs">1290</text>
<text x="249.0" y="414.0" textLength="33.0" lengthAdjust="spacingAndGlyphs">1230</text>
<text x="296.0" y="454.0" textLength="33.0" lengthAdjust="spacingAndGlyphs">1260</text>
<text x="328.0" y="497.0" textLength="33.0" lengthAdjust="spacingAndGlyphs">1250</text>
<text x="53.0" y="484.0" textLength="33.0" lengthAdjust="spacingAndGlyphs">1270</text>
<text x="104.0" y="491.0" textLength="33.0" lengthAdjust="spacingAndGlyphs">1280</text>
<text x="129.0" y="565.0" textLength="33.0" lengthAdjust="spacingAndGlyphs">1220</text>
<text x="184.0" y="590.0" textLength="33.0" lengthAdjust="spacingAndGlyphs">1300</text>
<text x="296.0" y="583.0" textLength="33.0" lengthAdjust="spacingAndGlyphs">1280</text>
<text x="349.0" y="579.0" textLength="33.0" lengthAdjust="spacingAndGlyphs">1270</text>
<text x="393.0" y="542.0" textLength="33.0" lengthAdjust="spacingAndGlyphs">1840</text>
<text x="408.5" y="557.0" textLength="33.0" lengthAdjust="spacingAndGlyphs">1820</text>
<text x="431.0" y="574.0" textLength="33.0" lengthAdjust="spacingAndGlyphs">1830</text>
<text x="456.5" y="587.0" textLength="33.0" lengthAdjust="spacingAndGlyphs">1810</text>
<text x="481.5" y="600.0" textLength="33.0" lengthAdjust="spacingAndGlyphs">1860</text>
<text x="515.5" y="609.0" textLength="33.0" lengthAdjust="spacingAndGlyphs">1850</text>
<line class="l" x1="376" y1="61.5" x2="390" y2="61.5" />
<line class="l" x1="487.5" y1="97.5" x2="510.5" y2="97.5" />
<line class="l" x1="466" y1="134.5" x2="509.8" y2="134.8" />
<line class="l" x1="326.5" y1="222" x2="556.5" y2="226" />
<line class="l" x1="442.5" y1="213" x2="442.5" y2="224" />
<line class="l" x1="326.5" y1="222" x2="326.5" y2="381" />
<line class="l" x1="326.5" y1="396.5" x2="326.5" y2="405" />
<line class="l" x1="341.5" y1="222.3" x2="341.5" y2="378.3" />
<line class="l" x1="341.5" y1="394" x2="341.5" y2="397.5" />
<line class="l" x1="353.5" y1="222.5" x2="353.5" y2="336.5" />
<line class="l" x1="352.5" y1="349.5" x2="352.5" y2="370.5" />
<line class="l" x1="556.5" y1="226" x2="555.2" y2="426.5" />
<line class="l" x1="449" y1="251" x2="475.5" y2="251.5" />
<line class="l" x1="503" y1="252.5" x2="556.5" y2="253" />
<line class="l" x1="484" y1="307" x2="556.5" y2="307.5" />
<line class="l" x1="508" y1="319" x2="516.5" y2="316.8" />
<polyline class="l" points="518.5,356.0 518.5,337.5 525.5,337.5" />
<line class="l" x1="549" y1="338.5" x2="556" y2="338.5" />
<polyline class="l" points="517.5,397.5 517.5,426.5 525.0,426.5" />
<line class="l" x1="548.5" y1="426.5" x2="555.2" y2="426.5" />
<line class="l" x1="478" y1="476" x2="488" y2="464.6" />
<line class="l" x1="500.4" y1="479.8" x2="503" y2="475.4" />
<polyline class="l" points="99.0,591.5 101.8,387.6 264.0,391.2 263.6,401.5" />
<line class="l" x1="182.5" y1="383.2" x2="182.5" y2="388.8" />
<line class="l" x1="171" y1="388.5" x2="170" y2="452" />
<line class="l" x1="195.2" y1="420" x2="194" y2="441" />
<line class="l" x1="263.4" y1="415.5" x2="262.5" y2="437" />
<polyline class="l" points="147.5,580.2 147.5,592.0 98.5,591.5" />
<line class="l" x1="147.5" y1="518" x2="147.5" y2="552" />
<line class="l" x1="87.2" y1="476" x2="125.7" y2="458.6" />
<line class="l" x1="135" y1="481.7" x2="142.8" y2="475.5" />
<line class="l" x1="303.4" y1="456.1" x2="301.8" y2="474.8" />
<line class="l" x1="294.3" y1="492.4" x2="328.5" y2="493.4" />
<line class="l" x1="198.7" y1="580.2" x2="192.2" y2="563.9" />
<line class="l" x1="314.8" y1="561.8" x2="319.5" y2="570.4" />
<line class="l" x1="349.8" y1="555.6" x2="355.2" y2="565.7" />
<polyline class="l" points="233.4,537.5 246.1,564.9 285.0,559.0" />
<line class="l" x1="285" y1="559" x2="305.5" y2="556.6" stroke-dasharray="10 3 2 3"/>
<line class="l" x1="446.5" y1="452" x2="446.5" y2="478.7" />
<line class="l" x1="446.5" y1="478.7" x2="416.3" y2="462.4" />
<line class="l" x1="416.5" y1="462.4" x2="416.5" y2="513.5" stroke-dasharray="24 2 2 2"/>
<line class="l" x1="416.3" y1="513.5" x2="425" y2="515.6" />
<line class="l" x1="423.5" y1="536" x2="440" y2="519" />
<line class="l" x1="439" y1="551" x2="452" y2="531" />
<line class="l" x1="462" y1="568" x2="474" y2="549" />
<line class="l" x1="487" y1="580" x2="497" y2="564" />
<line class="l" x1="508.6" y1="588.3" x2="519.5" y2="572" />
<line class="l" x1="535" y1="596.9" x2="551.3" y2="572" />
<line class="l" x1="478" y1="339.5" x2="503" y2="348.5" />
<line class="l" x1="458.6" y1="359" x2="499.5" y2="383.5" />
<line class="l" x1="393.5" y1="72" x2="393.5" y2="91" stroke-dasharray="3 2"/>
<line class="l" x1="392.5" y1="126" x2="392.5" y2="308" stroke-dasharray="26 2 2 2"/>
<line class="l" x1="445.5" y1="263" x2="445.5" y2="316" />
<line class="l" x1="454" y1="442.8" x2="488" y2="459" stroke-dasharray="14 3 2 3"/>
<line class="l" x1="425" y1="516" x2="522" y2="571" stroke-dasharray="14 3 2 3"/>
<line class="l" x1="355.5" y1="372.5" x2="364" y2="368" stroke-dasharray="14 3 2 3"/>
<line class="l" x1="197" y1="558" x2="216" y2="550" stroke-dasharray="14 3 2 3"/>
</svg>
</body></html>
